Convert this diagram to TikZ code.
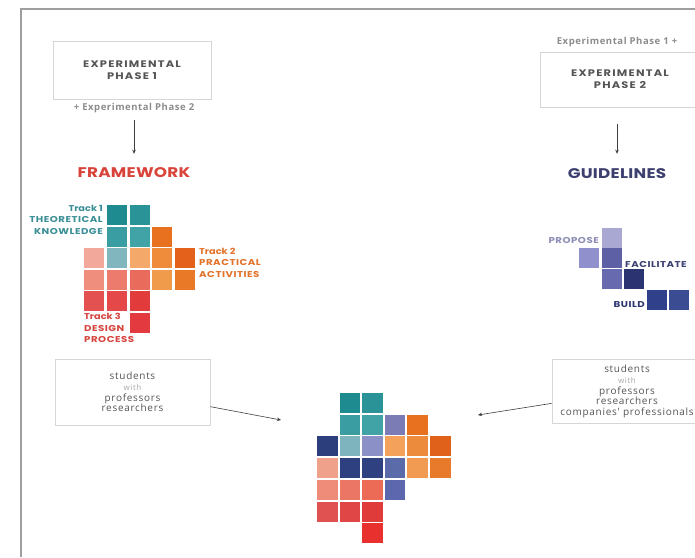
\documentclass[tikz,border=0pt]{standalone}
\usepackage{fontspec}
\setmainfont{Poppins}
\newfontfamily\titlefont[FakeStretch=1.2,LetterSpace=2]{Poppins}
\newfontfamily\boxfont[FakeStretch=1.2,LetterSpace=13]{Poppins}
\newfontfamily\trkfont[FakeStretch=1.2,LetterSpace=6]{Poppins}
\newfontfamily\trkplain[FakeStretch=1.15]{Poppins}
\newfontfamily\notefont[LetterSpace=6]{Open Sans}
\newfontfamily\lfont[LetterSpace=7]{Open Sans}
\usetikzlibrary{arrows.meta}
\definecolor{framegray}{HTML}{9E9E9E}
\definecolor{boxline}{HTML}{D6D6D6}
\definecolor{boxtext}{HTML}{555555}
\definecolor{notegray}{HTML}{8C8C8C}
\definecolor{withgray}{HTML}{A8A8A8}
\definecolor{arrowgray}{HTML}{3F3F3F}
\definecolor{fwred}{HTML}{D9443A}
\definecolor{glnavy}{HTML}{3D3F6E}
\definecolor{tteal}{HTML}{3A8F96}
\definecolor{torange}{HTML}{E2722A}
\definecolor{tred}{HTML}{D6443F}
\definecolor{pgray}{HTML}{8E8DB5}
\definecolor{fnavy}{HTML}{3C4272}
\definecolor{bnavy}{HTML}{2E3670}
\tikzset{
  pbox/.style={draw=boxline, line width=0.8pt, align=center, text=boxtext,
    font=\boxfont\bfseries\fontsize{9.5}{12}\selectfont, inner sep=0pt},
  note/.style={text=notegray, inner sep=0pt, font=\notefont\bfseries\fontsize{9.5}{10}\selectfont},
  ttl/.style={inner sep=0pt, font=\titlefont\bfseries\fontsize{14}{16}\selectfont},
  trk/.style={inner sep=0pt, font=\trkfont\bfseries\fontsize{8.5}{11.5}\selectfont},
  gll/.style={inner sep=0pt, font=\trkfont\bfseries\fontsize{8.5}{9}\selectfont},
  lbox/.style={draw=boxline, line width=0.8pt, align=center, text=boxtext, inner sep=0pt,
    font=\lfont\fontsize{10}{10.8}\selectfont},
  arr/.style={draw=arrowgray, line width=0.6pt, -{Stealth[length=4pt,width=3.5pt]}},
  frameline/.style={draw=framegray, line width=1.6pt}
}
\begin{document}
\begin{tikzpicture}[x=1pt,y=-1pt]
\useasboundingbox (0,0) rectangle (695,557);
\fill[white] (0,0) rectangle (695,557);
\draw[frameline] (21,557) -- (21,9) -- (695,9);

% ---------- left column ----------
\node[pbox, minimum width=158, minimum height=58] (ph1) at (132,70) {EXPERIMENTAL\\PHASE 1};
\node[note] (pl1) at (134,108.5) {+ Experimental Phase 2};
\node[ttl, text=fwred] (fw) at (134,173) {FRAMEWORK};
\draw[arr, shorten <=7pt, shorten >=14pt] (pl1.south -| fw.north) -- (fw.north);

% framework grid
\foreach \c/\r/\col in {1/0/1E8B91, 2/0/2A9398,
  1/1/3A9DA2, 2/1/42A3A7, 3/1/E8711F,
  0/2/F2A99B, 1/2/82B6BF, 2/2/F4A96A, 3/2/EE8C3B, 4/2/E4611B,
  0/3/EF8E7D, 1/3/EC7B6D, 2/3/E96B5B, 3/3/F09B4B, 4/3/E97927,
  0/4/E45151, 1/4/E44848, 2/4/E23B3B,
  2/5/E23A3F}
{
  \definecolor{cc}{HTML}{\col}
  \fill[cc] (84+22.75*\c, 205+21.6*\r) rectangle ++(20,20);
}
\node[trk, text=tteal, anchor=east, align=right] (t1) at (103,219.5) {{\trkplain Track 1}\\THEORETICAL\\KNOWLEDGE};
\node[trk, text=torange, anchor=west, align=left] (t2) at (199,262.5) {{\trkplain Track 2}\\PRACTICAL\\ACTIVITIES};
\node[trk, text=tred, anchor=west, align=left] (t3) at (84,328) {{\trkplain Track 3}\\DESIGN\\PROCESS};

% ---------- right column ----------
\node[note] (pl2) at (617,42) {Experimental Phase 1 +};
\node[pbox, minimum width=160, minimum height=55] (ph2) at (620,79.5) {EXPERIMENTAL\\PHASE 2};
\node[ttl, text=glnavy] (gl) at (617,174) {GUIDELINES};
\draw[arr, shorten <=17pt, shorten >=15pt] (ph2.south -| gl.north) -- (gl.north);

% guidelines grid
\foreach \x/\y/\col in {602/228/A8A8D3, 579/248/8F90CC, 602/248/5D60A5,
  602/269/676AAE, 624/269/2B3471, 647/290/30408B, 669/290/3B4C93}
{
  \definecolor{cc}{HTML}{\col}
  \fill[cc] (\x,\y) rectangle ++(20,19.5);
}
\node[gll, text=pgray, anchor=east] (g1) at (599,240) {PROPOSE};
\node[gll, text=fnavy, anchor=west] (g2) at (625,264.5) {FACILITATE};
\node[gll, text=bnavy, anchor=east] (g3) at (645,305) {BUILD};

% ---------- bottom ----------
\node[lbox, minimum width=155, minimum height=66] (s1) at (132.5,392)
  {students\\{\color{withgray}\fontsize{8}{10.8}\selectfont with}\\professors\\researchers};
\node[lbox, minimum width=150, minimum height=64] (s2) at (627,391.5)
  {students\\{\color{withgray}\fontsize{8}{10.8}\selectfont with}\\professors\\researchers\\companies' professionals};
\coordinate (e1) at (281,420);
\coordinate (e2) at (478,415);
\draw[arr] (s1) -- (e1);
\draw[arr] (s2) -- (e2);

\foreach \c/\r/\col in {1/0/1E8B91, 2/0/2A9398,
  1/1/3A9DA2, 2/1/42A3A7, 3/1/7B7CB6, 4/1/E8711F,
  0/2/2C3E7B, 1/2/7DB4BE, 2/2/8B90C6, 3/2/F3A15B, 4/2/EC8B3B, 5/2/E06119,
  0/3/EFA18B, 1/3/2F4081, 2/3/2F4181, 3/3/5B6BA9, 4/3/F09B51, 5/3/E87A2B,
  0/4/EF8B79, 1/4/EC7666, 2/4/EC6B56, 3/4/5D67AD,
  0/5/E05151, 1/5/E04646, 2/5/E03B3B,
  2/6/E8312F}
{
  \definecolor{cc}{HTML}{\col}
  \fill[cc] (317+22.6*\c, 393+21.7*\r) rectangle ++(20.5,20);
}
\end{tikzpicture}
\end{document}
